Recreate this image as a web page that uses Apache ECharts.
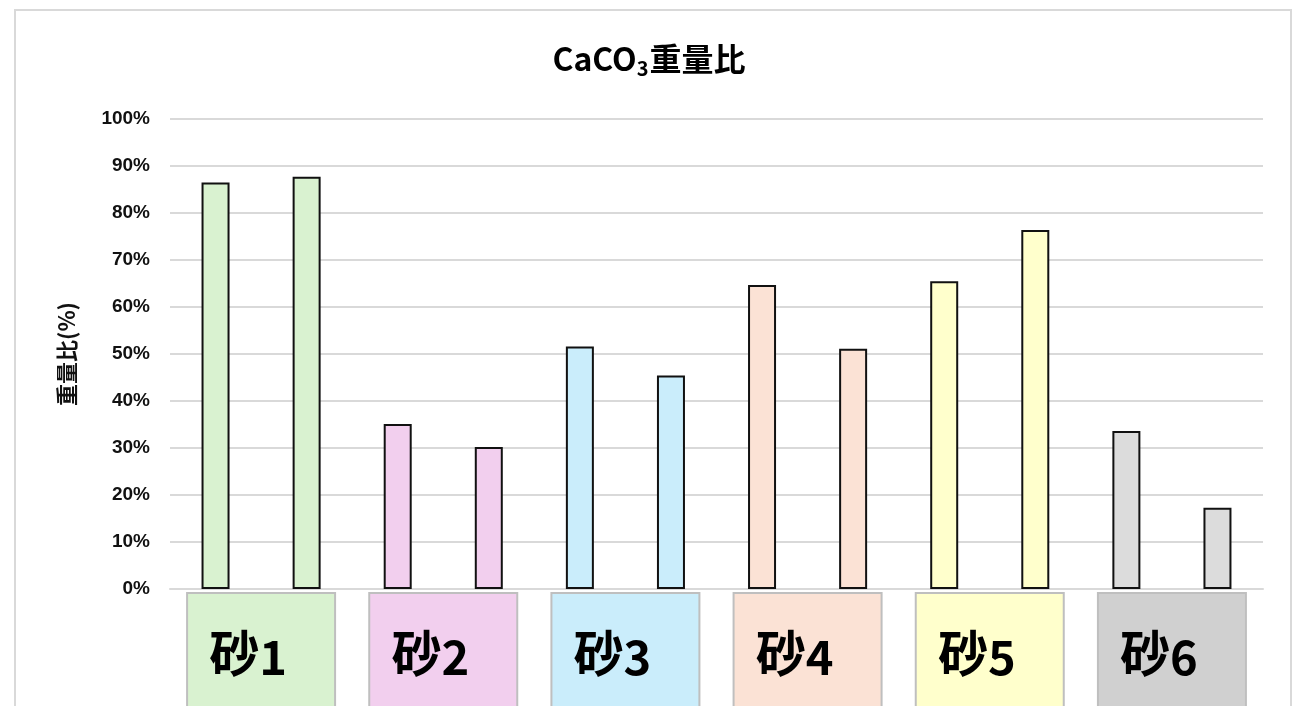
<!DOCTYPE html>
<html>
<head>
<meta charset="utf-8">
<script src="https://cdn.jsdelivr.net/npm/echarts@6/dist/echarts.min.js"></script>
<style>
html,body{margin:0;padding:0;background:#fff;}
#c{width:1298px;height:706px;}
</style>
</head>
<body>
<div id="c"></div>
<script>
// Data
const groups = ['砂1', '砂2', '砂3', '砂4', '砂5', '砂6'];
const barSlots = ['砂1a', '砂1b', '砂2a', '砂2b', '砂3a', '砂3b', '砂4a', '砂4b', '砂5a', '砂5b', '砂6a', '砂6b'];
const values = [86.5, 87.7, 35.1, 30.2, 51.6, 45.4, 64.7, 51.1, 65.5, 76.4, 33.6, 17.3];
const yTicks = [0, 10, 20, 30, 40, 50, 60, 70, 80, 90, 100];

// Styles
const barColors = ['#d9f2d0', '#f2cfee', '#caedfb', '#fbe2d5', '#ffffcc', '#dcdcdc'];
const boxColors = ['#d9f2d0', '#f2cfee', '#caedfb', '#fbe2d5', '#ffffcc', '#d0d0d0'];

const chart = echarts.init(document.getElementById('c'), null, {renderer: 'canvas'});
chart.setOption({
  backgroundColor: '#fff',
  animation: false,
  graphic: [{
    type: 'rect',
    shape: {x: 15, y: 10, width: 1276, height: 720},
    style: {fill: 'none', stroke: '#d9d9d9', lineWidth: 2},
    silent: true,
    z: -1
  }],
  title: {
    text: '{a|CaCO}{s|3}{a|重量比}',
    left: 'center',
    top: 35,
    textStyle: {
      rich: {
        a: {fontSize: 32, fontWeight: 'bold', fontFamily: 'Noto Sans CJK JP', color: '#000', height: 38, lineHeight: 38},
        s: {fontSize: 20, fontWeight: 'bold', fontFamily: 'Noto Sans CJK JP', color: '#000', padding: [18, 1, 0, 0], lineHeight: 38}
      }
    }
  },
  grid: {left: 170, right: 35, top: 119, bottom: 117, containLabel: false, outerBoundsMode: 'none'},
  xAxis: [{
    type: 'category',
    data: barSlots,
    axisLine: {lineStyle: {color: '#d9d9d9', width: 2}},
    axisTick: {show: false},
    axisLabel: {show: false}
  }, {
    type: 'category',
    data: groups.map((g, i) => ({value: g, textStyle: {backgroundColor: boxColors[i]}})),
    position: 'bottom',
    axisLine: {show: false},
    axisTick: {show: false},
    axisLabel: {
      margin: 5,
      interval: 0,
      borderColor: '#bfbfbf',
      borderWidth: 2,
      width: 120,
      height: 118,
      lineHeight: 118,
      padding: [0, 26, 0, 0],
      formatter: v => '{k|' + v.charAt(0) + '}{d|' + v.slice(1) + '}',
      rich: {
        k: {fontSize: 50, fontWeight: 'bold', fontFamily: 'Noto Sans CJK JP', color: '#000', lineHeight: 118},
        d: {fontSize: 47, fontWeight: 'bold', fontFamily: 'Noto Sans CJK JP', color: '#000', padding: [8, 0, 0, 0]}
      }
    }
  }],
  yAxis: {
    type: 'value',
    min: 0,
    max: 100,
    interval: 10,
    name: '重量比(%)',
    nameLocation: 'middle',
    nameRotate: 90,
    nameGap: 92,
    nameTextStyle: {fontSize: 22, fontWeight: 'bold', fontFamily: 'Noto Sans CJK JP', color: '#111'},
    axisLine: {show: false},
    axisTick: {show: false},
    axisLabel: {
      margin: 20,
      fontSize: 19,
      fontWeight: 'bold',
      fontFamily: 'Liberation Sans',
      color: '#111',
      formatter: v => (yTicks.includes(v) ? v + '%' : '')
    },
    splitLine: {lineStyle: {color: '#d9d9d9', width: 2}}
  },
  series: [{
    type: 'bar',
    xAxisIndex: 0,
    barWidth: 28,
    data: values.map((v, i) => ({
      value: v,
      itemStyle: {color: barColors[Math.floor(i / 2)], borderColor: '#111', borderWidth: 2}
    }))
  }]
});
</script>
</body>
</html>
